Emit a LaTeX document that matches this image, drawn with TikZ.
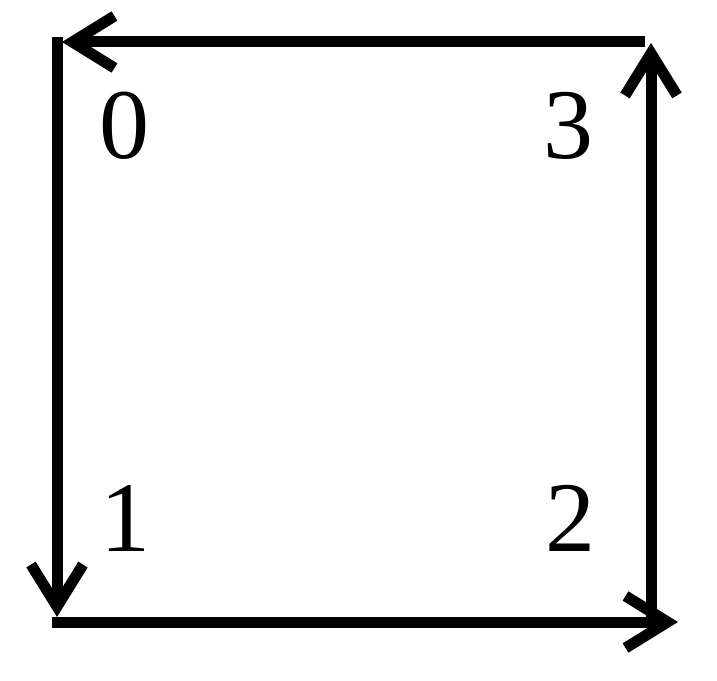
\documentclass[tikz,border=0pt]{standalone}
\usepackage{fontspec}
\setmainfont{Liberation Serif}
\usetikzlibrary{arrows.meta}

\tikzset{
  ring/.style={black,line width=5.5pt,-{Straight Barb[length=21pt,width=26pt]}},
  num/.style={inner sep=0pt,font=\fontsize{50}{50}\selectfont}
}

\begin{document}
\begin{tikzpicture}[x=0.5pt,y=0.5pt]
\useasboundingbox (0,0) rectangle (717,680);
% ends of the four sides
\coordinate (t3) at (645,638);
\coordinate (t0) at (62,638);
\coordinate (s0) at (57,643);
\coordinate (s1) at (57,63);
\coordinate (b1) at (52,58);
\coordinate (b2) at (678,58);
\coordinate (r2) at (651,53);
\coordinate (r3) at (651,637);
% corner numbers
\node[num] (n0) at (124,554) {0};
\node[num] (n1) at (125,162) {1};
\node[num] (n2) at (570,162) {2};
\node[num] (n3) at (568,554) {3};
% sides
\draw[ring] (t3) -- (t0);
\draw[ring] (s0) -- (s1);
\draw[ring] (b1) -- (b2);
\draw[ring] (r2) -- (r3);
\end{tikzpicture}
\end{document}
